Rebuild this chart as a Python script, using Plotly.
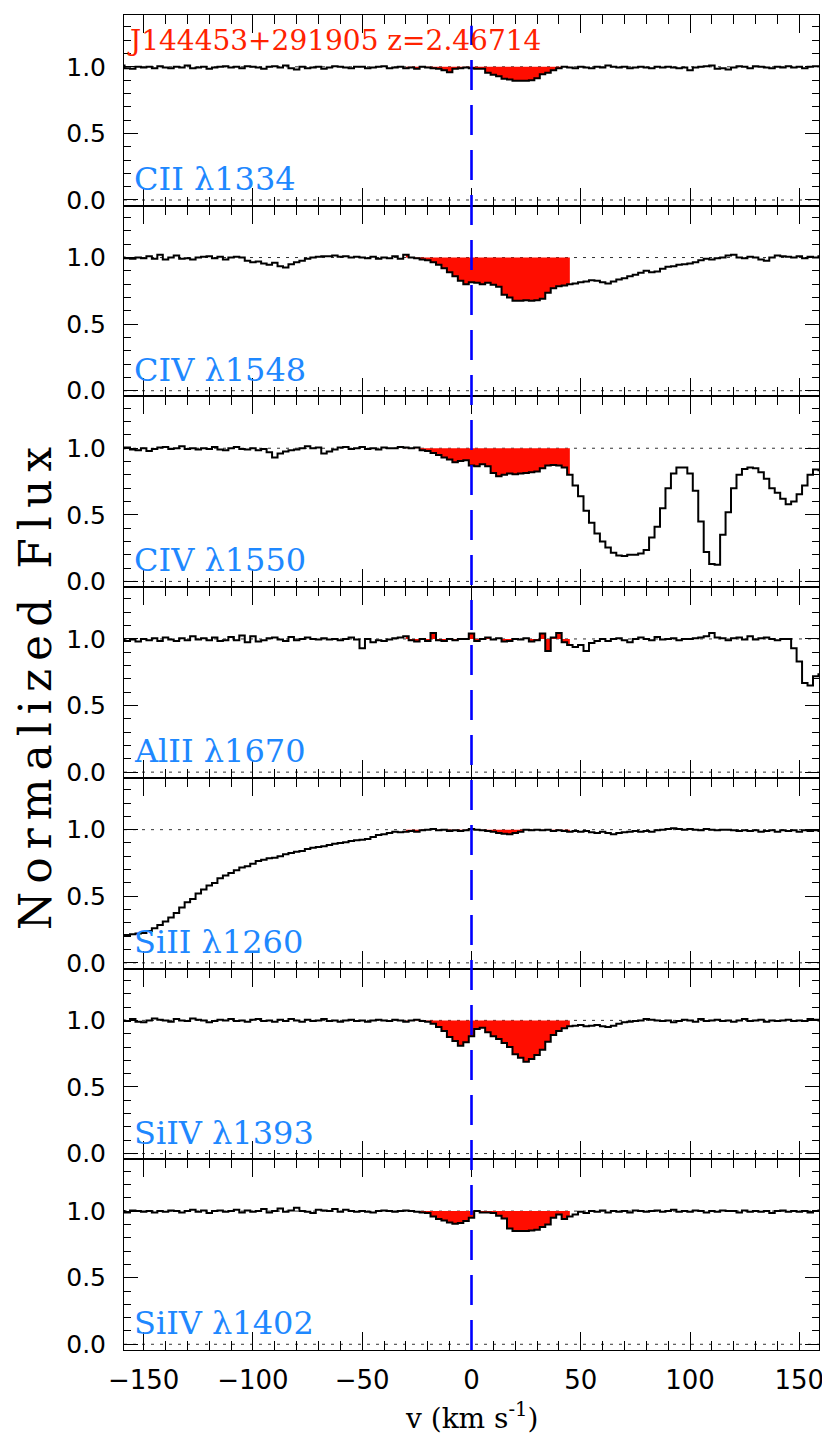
import numpy as np
import plotly.graph_objects as go
from plotly.subplots import make_subplots

# ---------------- data ----------------
V_START = -160.0
V_STEP = 2.5
N_PIX = 129
velocity = V_START + V_STEP * np.arange(N_PIX)

TITLE = "J144453+291905 z=2.46714"
LABELS = ["CII λ1334", "CIV λ1548", "CIV λ1550", "AlII λ1670",
          "SiII λ1260", "SiIV λ1393", "SiIV λ1402"]

FLUX_CII_1334 = [
    1.01, 0.99, 0.985, 1.0, 0.995, 1.0, 0.99, 1.005,
    0.995, 0.99, 1.0, 0.995, 1.01, 0.99, 0.995, 1.0,
    0.985, 0.995, 1.0, 1.005, 0.995, 1.0, 0.99, 1.005,
    1.0, 0.995, 0.985, 1.0, 1.005, 0.995, 1.01, 0.99,
    0.98, 1.0, 0.99, 0.995, 1.0, 0.985, 0.995, 1.005,
    1.0, 0.995, 0.99, 1.0, 1.0, 0.99, 0.995, 1.0,
    1.005, 0.99, 0.995, 1.0, 0.99, 0.995, 0.985, 1.0,
    0.995, 0.99, 0.985, 0.975, 0.96, 0.985, 0.99, 0.995,
    0.99, 0.985, 0.985, 0.955, 0.94, 0.93, 0.91, 0.905,
    0.895, 0.895, 0.895, 0.90, 0.915, 0.945, 0.955, 0.975,
    0.99, 1.0, 0.995, 0.99, 1.0, 0.995, 0.99, 1.0,
    0.995, 1.01, 1.0, 0.995, 1.0, 0.99, 0.995, 1.0,
    0.995, 0.99, 1.0, 0.995, 1.0, 0.995, 0.99, 0.995,
    0.975, 0.995, 1.0, 1.005, 1.01, 0.985, 0.99, 0.98,
    0.995, 1.005, 1.0, 0.99, 1.005, 1.0, 0.995, 0.99,
    1.0, 0.995, 1.005, 0.995, 1.0, 0.99, 1.0, 1.005,
    1.005,
]

FLUX_CIV_1548 = [
    1.0, 0.995, 0.99, 1.0, 0.995, 1.01, 0.99, 1.02,
    0.985, 1.0, 1.015, 0.99, 0.995, 0.985, 1.0, 1.005,
    1.01, 0.995, 1.005, 0.985, 1.0, 1.005, 1.0, 0.975,
    0.965, 0.97, 0.955, 0.945, 0.96, 0.935, 0.925, 0.95,
    0.965, 0.975, 0.99, 1.0, 1.005, 1.01, 1.01, 1.015,
    1.005, 1.01, 1.0, 1.005, 1.0, 0.995, 1.005, 0.99,
    1.0, 0.995, 1.01, 0.99, 1.02, 1.0, 0.995, 0.985,
    0.98, 0.965, 0.945, 0.92, 0.89, 0.86, 0.825, 0.80,
    0.815, 0.81, 0.80, 0.81, 0.795, 0.78, 0.72, 0.70,
    0.675, 0.675, 0.68, 0.675, 0.68, 0.69, 0.735, 0.77,
    0.785, 0.79, 0.80, 0.805, 0.815, 0.82, 0.83, 0.825,
    0.815, 0.805, 0.82, 0.835, 0.845, 0.86, 0.87, 0.885,
    0.90, 0.89, 0.895, 0.915, 0.93, 0.935, 0.945, 0.95,
    0.955, 0.965, 0.98, 0.99, 0.985, 0.995, 1.0, 1.015,
    1.02, 1.0, 0.995, 1.005, 1.0, 0.985, 0.975, 1.0,
    1.015, 1.01, 1.005, 1.0, 1.01, 0.995, 1.005, 1.0,
    1.01,
]

FLUX_CIV_1550 = [
    1.0, 1.005, 0.99, 0.985, 1.0, 0.98, 0.995, 1.005,
    1.01, 0.995, 1.0, 1.015, 0.995, 1.0, 0.99, 1.0,
    0.995, 1.01, 0.99, 0.985, 1.0, 1.01, 0.995, 0.99,
    1.0, 0.985, 0.995, 0.97, 0.93, 0.96, 0.975, 0.985,
    0.99, 1.0, 1.015, 1.0, 1.005, 0.96, 0.975, 0.99,
    1.005, 1.01, 0.995, 1.0, 1.01, 0.995, 1.0, 0.99,
    1.005, 1.0, 1.0, 1.01, 1.005, 1.0, 1.005, 0.985,
    0.98, 0.965, 0.95, 0.93, 0.915, 0.895, 0.905, 0.91,
    0.87, 0.865, 0.88, 0.865, 0.815, 0.79, 0.80, 0.81,
    0.805, 0.81, 0.815, 0.82, 0.825, 0.85, 0.87, 0.875,
    0.87, 0.855, 0.80, 0.72, 0.64, 0.53, 0.44, 0.36,
    0.30, 0.255, 0.215, 0.195, 0.19, 0.20, 0.20, 0.21,
    0.235, 0.33, 0.41, 0.55, 0.70, 0.81, 0.855, 0.855,
    0.81, 0.68, 0.45, 0.22, 0.13, 0.125, 0.35, 0.52,
    0.70, 0.80, 0.845, 0.855, 0.85, 0.82, 0.77, 0.70,
    0.665, 0.62, 0.58, 0.60, 0.655, 0.72, 0.80, 0.84,
    0.835,
]

FLUX_AlII_1670 = [
    1.0, 0.985, 0.995, 0.98, 1.0, 0.99, 1.005, 0.985,
    1.01, 0.995, 0.985, 1.005, 0.99, 1.02, 0.995, 1.005,
    0.99, 1.01, 0.985, 0.99, 1.015, 0.99, 1.025, 0.975,
    1.02, 0.98, 0.99, 1.005, 1.01, 0.995, 0.985, 1.015,
    0.99, 1.0, 1.01, 1.0, 0.995, 1.005, 0.995, 1.0,
    0.99, 1.0, 1.01, 0.995, 0.93, 1.0, 0.975, 0.99,
    0.985, 0.995, 1.005, 1.01, 1.02, 0.99, 0.98, 1.0,
    0.985, 1.045, 0.99, 0.985, 1.0, 0.99, 1.0, 1.0,
    1.04, 0.985, 1.0, 1.01, 0.995, 1.005, 0.98, 0.985,
    1.0, 0.995, 1.005, 0.98, 0.99, 1.04, 0.91, 1.01,
    1.045, 0.975, 0.955, 0.94, 0.955, 0.91, 0.97, 0.985,
    1.0, 0.985, 1.0, 1.005, 0.99, 0.975, 1.0, 1.01,
    1.0, 0.99, 1.015, 0.995, 1.0, 1.005, 0.99, 1.0,
    1.0, 1.005, 1.01, 1.02, 1.045, 1.01, 1.005, 0.99,
    1.005, 1.01, 0.995, 1.02, 0.995, 1.005, 1.01, 1.0,
    0.99, 1.0, 1.0, 0.93, 0.83, 0.67, 0.65, 0.72,
    0.735,
]

FLUX_SiII_1260 = [
    0.205, 0.21, 0.215, 0.22, 0.225, 0.24, 0.26, 0.285,
    0.31, 0.34, 0.375, 0.415, 0.455, 0.48, 0.52, 0.55,
    0.58, 0.60, 0.635, 0.655, 0.675, 0.695, 0.715, 0.725,
    0.745, 0.765, 0.775, 0.785, 0.79, 0.80, 0.815, 0.825,
    0.835, 0.84, 0.855, 0.865, 0.87, 0.875, 0.885, 0.895,
    0.90, 0.905, 0.915, 0.92, 0.925, 0.93, 0.945, 0.96,
    0.965, 0.975, 0.985, 0.98, 0.985, 0.99, 0.985, 0.995,
    1.0, 1.005, 0.995, 1.0, 0.99, 0.995, 0.99, 0.995,
    1.005, 1.0, 0.995, 0.99, 0.985, 0.975, 0.97, 0.965,
    0.975, 0.985, 1.0, 0.995, 1.0, 0.995, 1.0, 0.99,
    0.995, 0.99, 0.985, 0.99, 0.985, 0.99, 0.98, 0.975,
    0.985, 0.975, 0.965, 0.975, 0.98, 0.985, 0.99, 0.985,
    0.99, 0.985, 0.995, 1.0, 1.005, 1.01, 1.005, 1.0,
    1.005, 1.0, 0.995, 1.005, 1.0, 0.995, 1.0, 1.0,
    0.995, 0.99, 0.995, 0.99, 0.995, 0.985, 0.99, 0.995,
    0.985, 0.995, 0.99, 0.995, 0.985, 0.995, 0.99, 0.995,
    0.99,
]

FLUX_SiIV_1393 = [
    1.0, 0.995, 1.01, 0.99, 0.985, 1.0, 1.015, 1.005,
    1.0, 0.99, 1.01, 1.0, 0.995, 1.015, 1.005, 1.0,
    0.985, 0.995, 1.005, 1.0, 1.01, 0.995, 1.0, 0.99,
    1.005, 1.01, 0.995, 1.0, 0.99, 1.005, 0.995, 1.01,
    1.0, 0.99, 1.005, 0.995, 1.0, 1.01, 0.995, 1.0,
    0.99, 1.0, 1.005, 0.995, 1.0, 0.99, 1.0, 1.005,
    1.0, 0.995, 1.005, 1.0, 0.99, 1.0, 1.005, 0.995,
    0.99, 0.975, 0.95, 0.92, 0.875, 0.845, 0.81, 0.835,
    0.88, 0.935, 0.945, 0.91, 0.88, 0.86, 0.83, 0.80,
    0.745, 0.72, 0.69, 0.71, 0.74, 0.78, 0.84, 0.89,
    0.92, 0.94, 0.955, 0.96, 0.965, 0.955, 0.96, 0.965,
    0.955, 0.95, 0.96, 0.975, 0.985, 0.99, 0.995, 1.0,
    1.01, 1.005, 1.0, 0.995, 1.0, 0.985, 0.995, 1.005,
    1.0, 0.99, 1.01, 0.995, 1.0, 1.005, 0.995, 1.0,
    0.99, 1.0, 1.01, 0.995, 1.0, 1.005, 0.99, 1.0,
    0.995, 1.0, 1.005, 0.995, 1.0, 0.995, 1.01, 1.005,
    1.0,
]

FLUX_SiIV_1402 = [
    1.0, 0.99, 1.005, 1.0, 0.995, 1.0, 0.99, 1.0,
    0.995, 1.005, 1.0, 0.99, 1.0, 1.01, 0.995, 1.005,
    0.985, 1.0, 1.005, 0.995, 1.0, 1.01, 0.99, 1.005,
    0.995, 1.0, 1.015, 0.99, 1.0, 1.02, 0.995, 1.005,
    1.025, 1.0, 0.995, 0.985, 1.01, 1.005, 1.0, 1.015,
    0.995, 1.01, 1.0, 0.995, 1.0, 0.995, 0.99, 1.0,
    1.005, 1.0, 0.995, 1.0, 1.005, 1.0, 0.995, 0.99,
    0.985, 0.96, 0.94, 0.93, 0.915, 0.905, 0.91, 0.925,
    0.95, 1.0, 0.99, 0.99, 0.985, 0.965, 0.945, 0.87,
    0.85, 0.85, 0.85, 0.855, 0.86, 0.88, 0.90, 0.95,
    0.975, 0.94, 0.96, 0.975, 0.995, 0.985, 1.0, 0.995,
    1.005, 0.99, 1.0, 0.995, 1.0, 0.99, 1.005, 1.0,
    0.995, 1.0, 1.005, 0.995, 1.0, 1.01, 0.995, 1.0,
    0.995, 1.005, 1.0, 0.99, 1.0, 0.995, 1.005, 1.0,
    1.0, 0.99, 1.005, 0.995, 1.0, 0.995, 1.0, 0.985,
    1.0, 1.005, 0.995, 1.0, 0.995, 1.0, 0.99, 1.0,
    1.005,
]

FLUXES = [FLUX_CII_1334, FLUX_CIV_1548, FLUX_CIV_1550, FLUX_AlII_1670,
          FLUX_SiII_1260, FLUX_SiIV_1393, FLUX_SiIV_1402]

FILL_VMIN = -30.0
FILL_VMAX = 45.0
X_RANGE = [-159, 159]
Y_RANGE = [-0.043, 1.389]
X_MAJOR, X_MINOR = 50, 10
Y_MAJOR, Y_MINOR = 0.5, 0.1

# ---------------- styles ----------------
RED = "#ff0d00"
LABEL_BLUE = "#1e88ff"
TITLE_RED = "#ff2200"
SERIF = "DejaVu Serif"
SANS = "DejaVu Sans"

N = len(FLUXES)
fig = make_subplots(rows=N, cols=1, shared_xaxes=True, vertical_spacing=0)

for k, (flux, lab) in enumerate(zip(FLUXES, LABELS), start=1):
    flux = np.asarray(flux, dtype=float)
    assert len(flux) == N_PIX, (lab, len(flux))
    m = (velocity >= FILL_VMIN) & (velocity <= FILL_VMAX)
    vx = velocity[m]
    fy = flux[m]
    poly_x = np.concatenate([vx, vx[::-1]])
    poly_y = np.concatenate([fy, np.ones_like(fy)])
    fig.add_trace(go.Scatter(x=poly_x, y=poly_y, mode="lines",
                             line=dict(width=0, shape="hvh"),
                             fill="toself", fillcolor=RED,
                             hoverinfo="skip", showlegend=False),
                  row=k, col=1)
    fig.add_trace(go.Scatter(x=velocity, y=flux, mode="lines",
                             line=dict(color="#000000", width=2.0, shape="hvh"),
                             showlegend=False, name=lab),
                  row=k, col=1)

    xs = "" if k == 1 else str(k)
    # continuum and zero reference lines
    for yv in (1.0, 0.0):
        fig.add_shape(type="line", xref=f"x{xs} domain", yref=f"y{xs}",
                      x0=0, x1=1, y0=yv, y1=yv, layer="below",
                      line=dict(color="#333333", width=1, dash="3px,6px"))
    # line label
    fig.add_annotation(xref=f"x{xs} domain", yref=f"y{xs}", x=0.0115, y=0.0,
                       xanchor="left", yanchor="bottom", text=lab, showarrow=False,
                       font=dict(family=SERIF, size=32, color=LABEL_BLUE))

# systemic velocity marker
fig.add_shape(type="line", xref="x7", yref="paper", x0=0, x1=0, y0=0, y1=0.992,
              layer="above", line=dict(color="#0000ff", width=2.6, dash="30px,15px"))

# title
fig.add_annotation(xref="paper", yref="paper", x=0.002, y=0.9948,
                   xanchor="left", yanchor="top", text=TITLE, showarrow=False,
                   font=dict(family=SERIF, size=28, color=TITLE_RED))

# axis titles
fig.add_annotation(xref="paper", yref="paper", x=-0.128, y=0.498,
                   text='<span style="letter-spacing:8px">Normalized Flux</span>',
                   textangle=-90, showarrow=False,
                   xanchor="center", yanchor="middle",
                   font=dict(family=SERIF, size=44, color="#000000"))
fig.add_annotation(xref="paper", yref="paper", x=0.5, y=-0.050,
                   text="v (km s<sup>-1</sup>)", showarrow=False,
                   xanchor="center", yanchor="middle",
                   font=dict(family=SERIF, size=28, color="#000000"))

axis_common = dict(ticks="inside", tickwidth=1, tickcolor="#000000",
                   showline=True, linecolor="#000000", linewidth=1,
                   mirror="ticks", showgrid=False, zeroline=False)

fig.update_xaxes(range=X_RANGE, tick0=0, dtick=X_MAJOR, ticklen=18,
                 minor=dict(dtick=X_MINOR, tick0=0, ticklen=9, ticks="inside",
                            tickcolor="#000000", tickwidth=1, showgrid=False),
                 tickfont=dict(family=SANS, size=26, color="#000000"),
                 ticklabelstandoff=7, **axis_common)
fig.update_yaxes(range=Y_RANGE, tick0=0, dtick=Y_MAJOR, tickformat=".1f", ticklen=14,
                 minor=dict(dtick=Y_MINOR, tick0=0, ticklen=7, ticks="inside",
                            tickcolor="#000000", tickwidth=1, showgrid=False),
                 tickfont=dict(family=SANS, size=25, color="#000000"),
                 ticklabelstandoff=12, **axis_common)

# the page body adds an 8 px offset, so the figure is 8 px smaller on each side
fig.update_layout(width=822, height=1445,
                  margin=dict(l=116, r=8, t=6, b=103),
                  paper_bgcolor="white", plot_bgcolor="white",
                  showlegend=False)

fig.write_html("out.html")
